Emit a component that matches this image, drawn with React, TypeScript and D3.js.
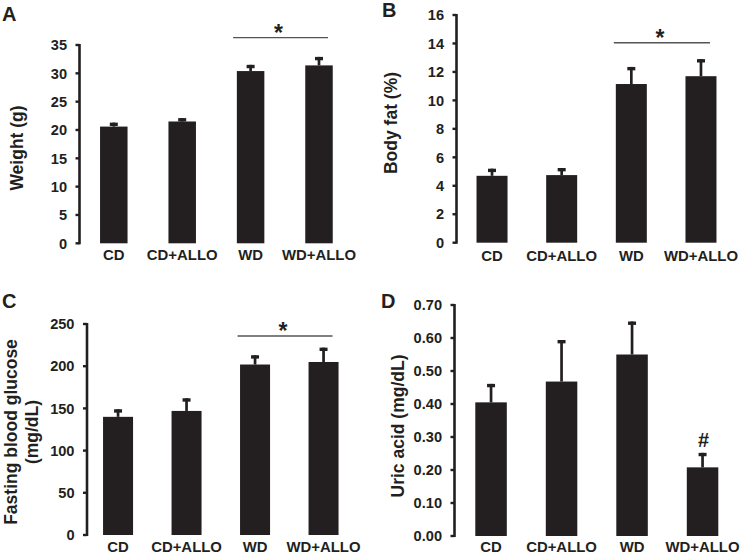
import { useEffect, useRef } from "react";
import * as d3 from "d3";

// groups
const categories = ["CD", "CD+ALLO", "WD", "WD+ALLO"];

// A: body weight (g)
const weightMean = [20.6, 21.5, 30.4, 31.4];
const weightErr = [0.7, 0.6, 1.1, 1.5];
const weightTicks = [0, 5, 10, 15, 20, 25, 30, 35];

// B: body fat (%)
const fatMean = [4.7, 4.75, 11.15, 11.7];
const fatErr = [0.5, 0.5, 1.2, 1.2];
const fatTicks = [0, 2, 4, 6, 8, 10, 12, 14, 16];

// C: fasting blood glucose (mg/dL)
const glucoseMean = [140, 147, 202, 205];
const glucoseErr = [9, 15, 11, 17];
const glucoseTicks = [0, 50, 100, 150, 200, 250];

// D: uric acid (mg/dL)
const uricMean = [0.405, 0.468, 0.55, 0.208];
const uricErr = [0.056, 0.126, 0.1, 0.044];
const uricTicks = [0, 0.1, 0.2, 0.3, 0.4, 0.5, 0.6, 0.7];

const FONT = "'Liberation Sans', Arial, Helvetica, sans-serif";
const INK = "#231f20";

const panels = [
  {
    letter: "A", mean: weightMean, err: weightErr, ticks: weightTicks, fmt: d3.format("d"),
    ylabel: ["Weight (g)"], sig: { type: "star", value: 36.3 },
    axisX: 79.5, yTop: 45, yBottom: 243.3, xRange: [79.6, 353.2], barW: 27.5,
    letterPos: [2, 21], labelPos: [17, 148], catY: 260,
  },
  {
    letter: "B", mean: fatMean, err: fatErr, ticks: fatTicks, fmt: d3.format("d"),
    ylabel: ["Body fat (%)"], sig: { type: "star", value: 14.05 },
    axisX: 456.5, yTop: 15, yBottom: 242.7, xRange: [457.2, 735.8], barW: 31,
    letterPos: [382, 17], labelPos: [390.5, 123], catY: 260.5,
  },
  {
    letter: "C", mean: glucoseMean, err: glucoseErr, ticks: glucoseTicks, fmt: d3.format("d"),
    ylabel: ["Fasting blood glucose", "(mg/dL)"], sig: { type: "star", value: 235.8 },
    axisX: 87, yTop: 324, yBottom: 535, xRange: [83.8, 357.8], barW: 30,
    letterPos: [2, 308], labelPos: [21, 432], catY: 552,
  },
  {
    letter: "D", mean: uricMean, err: uricErr, ticks: uricTicks, fmt: d3.format(".2f"),
    ylabel: ["Uric acid (mg/dL)"], sig: { type: "hash", index: 3 },
    axisX: 454.5, yTop: 305, yBottom: 536, xRange: [455.8, 737.8], barW: 31.5,
    letterPos: [381, 308], labelPos: [398, 426], catY: 552,
  },
];

function drawPanel(svg: any, p: any) {
  const g = svg.append("g");
  const yMax = p.ticks[p.ticks.length - 1];
  const y = d3.scaleLinear().domain([0, yMax]).range([p.yBottom, p.yTop]);
  const step = (p.xRange[1] - p.xRange[0]) / categories.length;
  const pad = 1 - p.barW / step;
  const x = d3
    .scaleBand()
    .domain(categories)
    .range(p.xRange)
    .paddingInner(pad)
    .paddingOuter(pad / 2);

  // bars
  g.selectAll("rect.bar")
    .data(categories)
    .join("rect")
    .attr("class", "bar")
    .attr("x", (d: string) => x(d))
    .attr("width", x.bandwidth())
    .attr("y", (d: string, i: number) => y(p.mean[i]))
    .attr("height", (d: string, i: number) => p.yBottom - y(p.mean[i]))
    .attr("fill", INK);

  // upper error bars
  const cx = (d: string) => (x(d) as number) + x.bandwidth() / 2;
  g.selectAll("line.err")
    .data(categories)
    .join("line")
    .attr("x1", cx)
    .attr("x2", cx)
    .attr("y1", (d: string, i: number) => y(p.mean[i]))
    .attr("y2", (d: string, i: number) => y(p.mean[i] + p.err[i]))
    .attr("stroke", INK)
    .attr("stroke-width", 2.7);
  g.selectAll("line.cap")
    .data(categories)
    .join("line")
    .attr("x1", (d: string) => cx(d) - 4)
    .attr("x2", (d: string) => cx(d) + 4)
    .attr("y1", (d: string, i: number) => y(p.mean[i] + p.err[i]) + 1.7)
    .attr("y2", (d: string, i: number) => y(p.mean[i] + p.err[i]) + 1.7)
    .attr("stroke", INK)
    .attr("stroke-width", 3.4);

  // y axis
  g.append("line")
    .attr("x1", p.axisX)
    .attr("x2", p.axisX)
    .attr("y1", y(yMax) - 1)
    .attr("y2", y(0) + 1)
    .attr("stroke", INK)
    .attr("stroke-width", 2.6);
  g.selectAll("line.tick")
    .data(p.ticks)
    .join("line")
    .attr("x1", p.axisX - 4)
    .attr("x2", p.axisX)
    .attr("y1", (d: number) => y(d))
    .attr("y2", (d: number) => y(d))
    .attr("stroke", INK)
    .attr("stroke-width", 2.4);
  g.selectAll("text.tick")
    .data(p.ticks)
    .join("text")
    .attr("x", p.axisX - 12.5)
    .attr("y", (d: number) => y(d))
    .attr("dy", "0.36em")
    .attr("text-anchor", "end")
    .attr("font-size", 14.6)
    .attr("font-weight", "bold")
    .attr("fill", INK)
    .text((d: number) => p.fmt(d));

  // category labels
  g.selectAll("text.cat")
    .data(categories)
    .join("text")
    .attr("x", cx)
    .attr("y", p.catY)
    .attr("text-anchor", "middle")
    .attr("font-size", 14.9)
    .attr("font-weight", "bold")
    .attr("fill", INK)
    .text((d: string) => d);

  // y label
  const lineH = 21;
  const n = p.ylabel.length;
  g.append("text")
    .attr("transform", `translate(${p.labelPos[0]},${p.labelPos[1]}) rotate(-90)`)
    .attr("text-anchor", "middle")
    .attr("font-size", 17.5)
    .attr("font-weight", "bold")
    .attr("fill", INK)
    .selectAll("tspan")
    .data(p.ylabel)
    .join("tspan")
    .attr("x", 0)
    .attr("y", (d: string, i: number) => (i - (n - 1) / 2) * lineH)
    .attr("dy", "0.35em")
    .text((d: string) => d);

  // panel letter
  g.append("text")
    .attr("x", p.letterPos[0])
    .attr("y", p.letterPos[1])
    .attr("font-size", 20)
    .attr("font-weight", "bold")
    .attr("fill", INK)
    .text(p.letter);

  // significance marks
  if (p.sig.type === "star") {
    const x1 = cx("WD") - 17.5;
    const x2 = cx("WD+ALLO") + 9;
    const ly = y(p.sig.value);
    g.append("line")
      .attr("x1", x1)
      .attr("x2", x2)
      .attr("y1", ly)
      .attr("y2", ly)
      .attr("stroke", "#555")
      .attr("stroke-width", 1.3);
    g.append("text")
      .attr("x", (x1 + x2) / 2 - 2)
      .attr("y", ly + 3)
      .attr("text-anchor", "middle")
      .attr("font-size", 23)
      .attr("font-weight", "bold")
      .attr("fill", INK)
      .text("*");
  } else {
    const c = categories[p.sig.index];
    g.append("text")
      .attr("x", cx(c) + 1)
      .attr("y", y(p.mean[p.sig.index] + p.err[p.sig.index]) - 6)
      .attr("text-anchor", "middle")
      .attr("font-size", 20)
      .attr("font-weight", "bold")
      .attr("fill", INK)
      .text("#");
  }
}

const App = () => {
  const ref = useRef<SVGSVGElement>(null);

  useEffect(() => {
    const svg = d3.select(ref.current);
    svg.selectAll("*").remove();
    svg.attr("font-family", FONT);
    panels.forEach((p) => drawPanel(svg, p));
    return () => {
      svg.selectAll("*").remove();
    };
  }, []);

  return (
    <svg
      ref={ref}
      width={747}
      height={560}
      style={{ position: "absolute", left: 0, top: 0, background: "#fff" }}
    />
  );
};

export default App;
